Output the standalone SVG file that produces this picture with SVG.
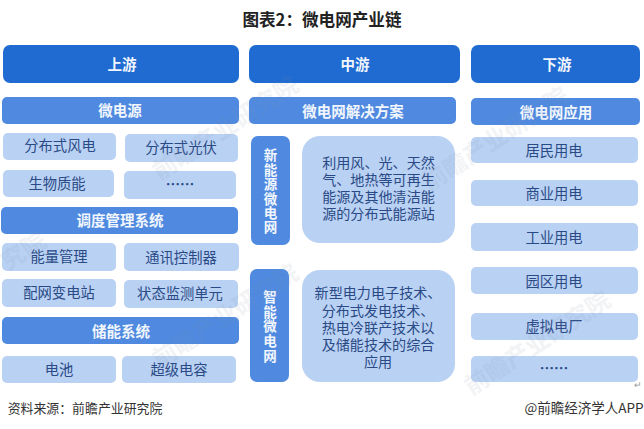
<svg xmlns="http://www.w3.org/2000/svg" width="644" height="429" viewBox="0 0 644 429">
<style>
text{font-family:"Noto Sans CJK SC","Liberation Sans",sans-serif;text-anchor:middle}
.h{fill:#1f6bd1}.s{fill:#4f8ae0}.l{fill:#b9d1f3}
.ht{fill:#f2f6fd;font-size:14.5px;font-weight:700}
.vt{fill:#f2f6fd;font-size:13.5px;font-weight:700}
.lt{fill:#2a4a86;font-size:14.3px}
.bt{fill:#2a4a86;font-size:14.1px}
.dt{fill:#2a4a86;font-size:14.3px;font-weight:700}
.wm{fill:#7f8fa8;opacity:.1;font-size:24px;font-weight:700}
.ft{fill:#333;font-size:12.9px}
</style>
<rect width="644" height="429" fill="#fff"/>
<text id="title" x="322" y="26" font-size="16.600" font-weight="700" fill="#222">图表2：微电网产业链</text>
<g id="n-up"><rect class="h" x="3" y="45" width="236" height="38" rx="7"/><text class="ht" x="122" y="70">上游</text></g>
<g id="n-mid"><rect class="h" x="249" y="45" width="211" height="38" rx="7"/><text class="ht" x="355" y="70">中游</text></g>
<g id="n-down"><rect class="h" x="471" y="45" width="169" height="38" rx="7"/><text class="ht" x="557" y="70">下游</text></g>
<g id="n-a"><rect class="s" x="2" y="97" width="237" height="27" rx="5"/><text class="ht" x="120" y="116">微电源</text></g>
<g id="n-a1"><rect class="l" x="3" y="133" width="113" height="27" rx="5"/><text class="lt" x="60" y="151">分布式风电</text></g>
<g id="n-a2"><rect class="l" x="125" y="134" width="113" height="28" rx="5"/><text class="lt" x="181" y="153">分布式光伏</text></g>
<g id="n-a3"><rect class="l" x="3" y="170" width="111" height="27" rx="5"/><text class="lt" x="57" y="189">生物质能</text></g>
<g id="n-a4"><rect class="l" x="124" y="171" width="112" height="28" rx="5"/><text class="dt" x="180" y="190">……</text></g>
<g id="n-b"><rect class="s" x="1" y="207" width="237" height="27" rx="5"/><text class="ht" x="120" y="226">调度管理系统</text></g>
<g id="n-b1"><rect class="l" x="2" y="243" width="114" height="28" rx="5"/><text class="lt" x="59" y="262">能量管理</text></g>
<g id="n-b2"><rect class="l" x="124" y="243" width="115" height="28" rx="5"/><text class="lt" x="181" y="263">通讯控制器</text></g>
<g id="n-b3"><rect class="l" x="2" y="279" width="114" height="28" rx="5"/><text class="lt" x="59" y="298">配网变电站</text></g>
<g id="n-b4"><rect class="l" x="124" y="280" width="114" height="28" rx="5"/><text class="lt" x="180" y="299">状态监测单元</text></g>
<g id="n-c"><rect class="s" x="2" y="317" width="237" height="27" rx="5"/><text class="ht" x="121" y="337">储能系统</text></g>
<g id="n-c1"><rect class="l" x="2" y="356" width="114" height="27" rx="5"/><text class="lt" x="59" y="375">电池</text></g>
<g id="n-c2"><rect class="l" x="122" y="356" width="114" height="27" rx="5"/><text class="lt" x="179" y="375">超级电容</text></g>
<g id="n-m"><rect class="s" x="249" y="97" width="207" height="27" rx="5"/><text class="ht" x="353" y="117">微电网解决方案</text></g>
<g id="n-m1"><rect class="s" x="251" y="136" width="39" height="109" rx="7"/><text class="vt"><tspan x="270.500" y="160">新</tspan><tspan x="270.500" y="175">能</tspan><tspan x="270.500" y="189">源</tspan><tspan x="270.500" y="204">微</tspan><tspan x="270.500" y="218">电</tspan><tspan x="270.500" y="232">网</tspan></text></g>
<g id="n-m1d"><rect class="l" x="302" y="136" width="153" height="107" rx="18"/><text class="bt"><tspan x="378.500" y="168">利用风、光、天然</tspan><tspan x="378.500" y="185">气、地热等可再生</tspan><tspan x="378.500" y="202">能源及其他清洁能</tspan><tspan x="378.500" y="219">源的分布式能源站</tspan></text></g>
<g id="n-m2"><rect class="s" x="250" y="269" width="39" height="113" rx="7"/><text class="vt"><tspan x="270" y="302">智</tspan><tspan x="270" y="317">能</tspan><tspan x="270" y="331">微</tspan><tspan x="270" y="346">电</tspan><tspan x="270" y="361">网</tspan></text></g>
<g id="n-m2d"><rect class="l" x="302" y="270" width="153" height="112" rx="18"/><text class="bt"><tspan x="378" y="298">新型电力电子技术、</tspan><tspan x="378" y="316">分布式发电技术、</tspan><tspan x="378" y="333">热电冷联产技术以</tspan><tspan x="378" y="350">及储能技术的综合</tspan><tspan x="378" y="367">应用</tspan></text></g>
<g id="n-d"><rect class="s" x="471" y="98" width="169" height="27" rx="5"/><text class="ht" x="556" y="118">微电网应用</text></g>
<g id="n-d1"><rect class="l" x="471" y="137" width="167" height="26" rx="5"/><text class="lt" x="554" y="156">居民用电</text></g>
<g id="n-d2"><rect class="l" x="471" y="180" width="167" height="26" rx="5"/><text class="lt" x="554" y="199">商业用电</text></g>
<g id="n-d3"><rect class="l" x="471" y="223" width="167" height="28" rx="5"/><text class="lt" x="554" y="243">工业用电</text></g>
<g id="n-d4"><rect class="l" x="471" y="267" width="167" height="27" rx="5"/><text class="lt" x="554" y="287">园区用电</text></g>
<g id="n-d5"><rect class="l" x="471" y="313" width="167" height="27" rx="5"/><text class="lt" x="554" y="332">虚拟电厂</text></g>
<g id="n-d6"><rect class="l" x="471" y="356" width="167" height="26" rx="5"/><text class="dt" x="554" y="374">……</text></g>
<g id="connectors"></g>
<g id="watermarks">
<text class="wm" transform="translate(230 135) rotate(-33)">前瞻产业研究院</text>
<text class="wm" transform="translate(500 146) rotate(-33)">前瞻产业研究院</text>
<text class="wm" transform="translate(28 258) rotate(-33)">究院</text>
<text class="wm" transform="translate(230 323) rotate(-33)">前瞻产业研究院</text>
<text class="wm" transform="translate(542 350) rotate(-33)">前瞻产业研究院</text>
</g>
<text class="ft" x="85" y="413">资料来源：前瞻产业研究院</text>
<text class="ft" x="584" y="413" style="font-size:13.5px">@前瞻经济学人APP</text>
<text x="638" y="388" font-size="9" fill="#999">↵</text>
</svg>
